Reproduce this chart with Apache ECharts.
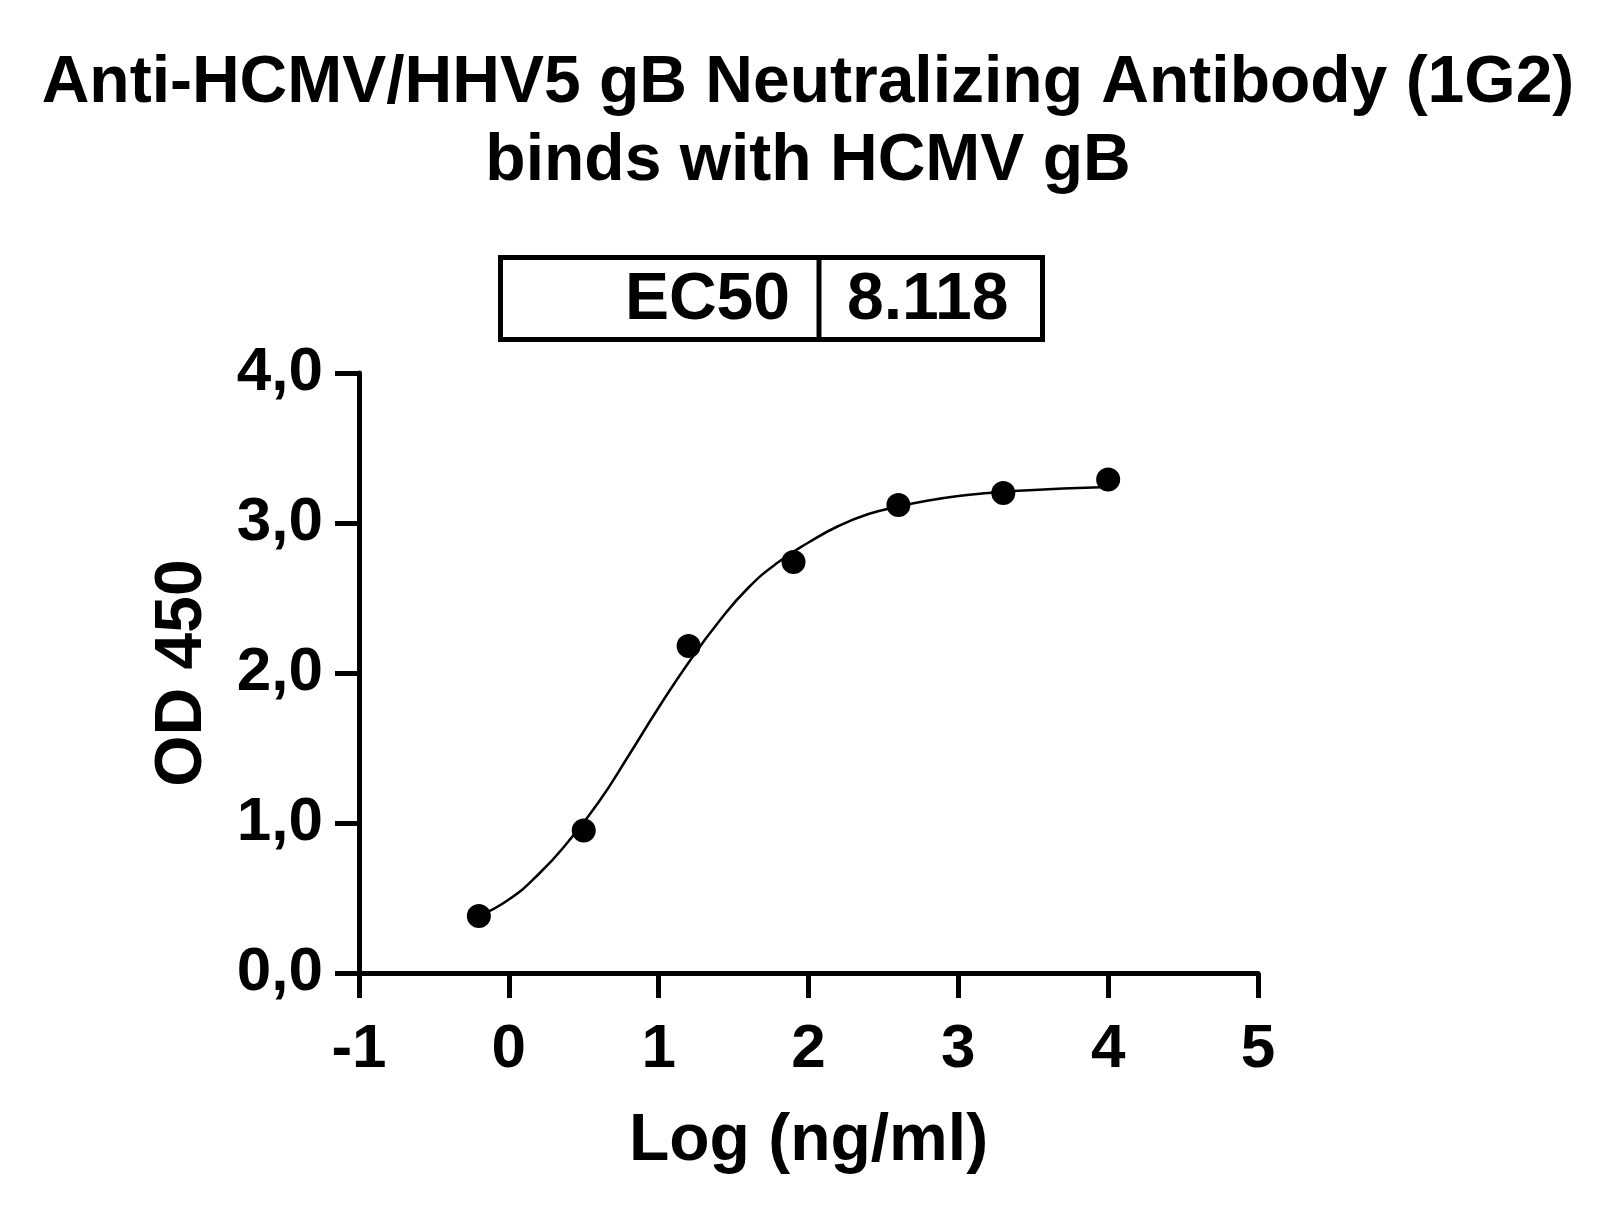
<!DOCTYPE html>
<html>
<head>
<meta charset="utf-8">
<script src="https://cdn.jsdelivr.net/npm/echarts@6/dist/echarts.min.js"></script>
<style>
html,body{margin:0;padding:0;background:#fff;}
#chart{width:1617px;height:1219px;}
</style>
</head>
<body>
<div id="chart"></div>
<script>
// ---- data ----
const titleLines = ['Anti-HCMV/HHV5 gB Neutralizing Antibody (1G2)', 'binds with HCMV gB'];
const xAxisTitle = 'Log (ng/ml)';
const yAxisTitle = 'OD 450';
const ec50Label = 'EC50';
const ec50Value = '8.118';
const yTickLabels = ['0,0', '1,0', '2,0', '3,0', '4,0'];
const xTickLabels = ['-1', '0', '1', '2', '3', '4', '5'];

// measured points
const pointX = [-0.2, 0.5, 1.2, 1.9, 2.6, 3.3, 4.0];
const pointY = [0.38, 0.95, 2.18, 2.74, 3.12, 3.20, 3.29];

// fitted curve
const curveX = [-0.2, 0.0, 0.2, 0.4, 0.6, 0.8, 1.0, 1.2, 1.4, 1.6, 1.8, 2.0, 2.2, 2.4, 2.6, 2.8, 3.0, 3.2, 3.4, 3.6, 3.8, 4.0];
const curveY = [0.38, 0.49, 0.66, 0.88, 1.14, 1.45, 1.77, 2.07, 2.34, 2.57, 2.74, 2.87, 2.98, 3.06, 3.11, 3.15, 3.18, 3.20, 3.215, 3.225, 3.233, 3.24];

const FONT = '"Liberation Sans", Arial, sans-serif';

const chart = echarts.init(document.getElementById('chart'), null, {renderer: 'canvas'});

const option = {
  backgroundColor: '#ffffff',
  animation: false,
  title: {
    text: titleLines.join('\n'),
    left: 808,
    textAlign: 'center',
    top: 45,
    padding: 0,
    textStyle: {
      fontFamily: FONT, fontWeight: 'bold', fontSize: 66, lineHeight: 78, color: '#000'
    }
  },
  grid: {left: 359, right: 359, top: 373, bottom: 246, containLabel: false},
  xAxis: {
    type: 'value', min: -1, max: 5, interval: 1,
    name: xAxisTitle, nameLocation: 'middle', nameGap: 136,
    nameTextStyle: {fontFamily: FONT, fontWeight: 'bold', fontSize: 66, color: '#000'},
    axisLine: {show: true, onZero: false, lineStyle: {color: '#000', width: 5}},
    axisTick: {show: true, length: 25, lineStyle: {color: '#000', width: 5}},
    axisLabel: {
      margin: 46, fontFamily: FONT, fontWeight: 'bold', fontSize: 62, color: '#000',
      formatter: v => xTickLabels[Math.round(v + 1)]
    },
    splitLine: {show: false}
  },
  yAxis: {
    type: 'value', min: 0, max: 4, interval: 1,
    name: yAxisTitle, nameLocation: 'middle', nameGap: 143, nameRotate: 90,
    nameTextStyle: {fontFamily: FONT, fontWeight: 'bold', fontSize: 66, color: '#000'},
    axisLine: {show: true, onZero: false, lineStyle: {color: '#000', width: 5}},
    axisTick: {show: true, length: 24, lineStyle: {color: '#000', width: 5}},
    axisLabel: {
      margin: 36, fontFamily: FONT, fontWeight: 'bold', fontSize: 62, color: '#000',
      formatter: v => yTickLabels[Math.round(v)]
    },
    splitLine: {show: false}
  },
  graphic: [
    {
      type: 'rect', z: 10,
      shape: {x: 500.5, y: 257.5, width: 542, height: 82},
      style: {fill: '#fff', stroke: '#000', lineWidth: 5}
    },
    {
      type: 'line', z: 11,
      shape: {x1: 819, y1: 257.5, x2: 819, y2: 339.5},
      style: {stroke: '#000', lineWidth: 5}
    },
    {
      type: 'text', z: 12, x: 790, y: 301,
      style: {text: ec50Label, fontFamily: FONT, fontWeight: 'bold', fontSize: 66, fill: '#000',
              textAlign: 'right', textVerticalAlign: 'middle'}
    },
    {
      type: 'text', z: 12, x: 847, y: 301,
      style: {text: ec50Value, fontFamily: FONT, fontWeight: 'bold', fontSize: 66, fill: '#000',
              textAlign: 'left', textVerticalAlign: 'middle'}
    }
  ],
  series: [
    {
      type: 'line', name: 'fit',
      data: curveX.map((x, i) => [x, curveY[i]]),
      smooth: 0.5, showSymbol: false, symbol: 'none',
      lineStyle: {color: '#000', width: 2.5},
      z: 2
    },
    {
      type: 'scatter', name: 'points',
      data: pointX.map((x, i) => [x, pointY[i]]),
      symbol: 'circle', symbolSize: 24,
      itemStyle: {color: '#000', opacity: 1},
      z: 3
    }
  ]
};
chart.setOption(option);
</script>
</body>
</html>
